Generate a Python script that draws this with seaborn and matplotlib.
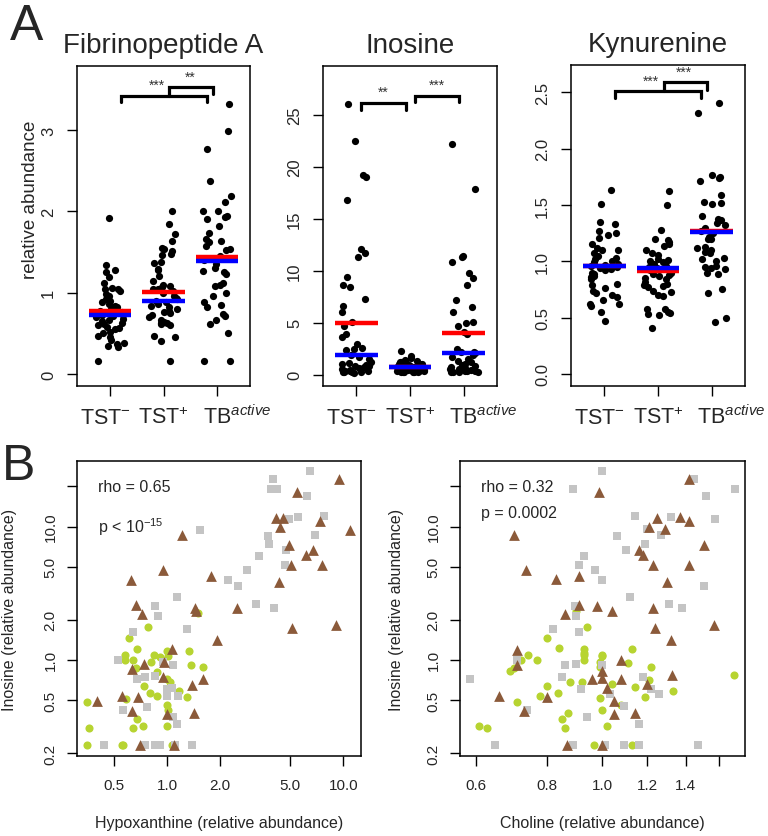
import numpy as np
import pandas as pd
import matplotlib
matplotlib.use("Agg")
import matplotlib.pyplot as plt
import matplotlib.transforms as mtrans
import seaborn as sns
from matplotlib.ticker import NullLocator

# stil ayarlari
sns.set_style("ticks")
plt.rcParams['font.family'] = ['Liberation Sans', 'DejaVu Sans']
plt.rcParams['mathtext.fontset'] = 'custom'
plt.rcParams['mathtext.rm'] = 'Liberation Sans'
plt.rcParams['mathtext.it'] = 'Liberation Sans:italic'
plt.rcParams['mathtext.sf'] = 'Liberation Sans'

np.random.seed(7)  # sadece jitter icin

# ---- Panel A verileri ----
groups = ["TST-", "TST+", "TB"]
group_labels = [r"TST$^{-}$", r"TST$^{+}$", r"TB$^{active}$"]

fib_tst_neg = [0.16, 0.33, 0.35, 0.37, 0.38, 0.42, 0.45, 0.47, 0.5, 0.52, 0.55, 0.57, 0.58, 0.6, 0.62,
               0.63, 0.65, 0.67, 0.68, 0.7, 0.71, 0.72, 0.73, 0.74, 0.76, 0.78, 0.8, 0.82, 0.84, 0.86,
               0.88, 0.9, 0.92, 0.96, 0.98, 1.02, 1.04, 1.05, 1.06, 1.12, 1.19, 1.26, 1.28, 1.34, 1.92]
fib_tst_pos = [0.16, 0.41, 0.46, 0.47, 0.6, 0.62, 0.63, 0.63, 0.64, 0.67, 0.7, 0.72, 0.75, 0.76, 0.78,
               0.8, 0.82, 0.84, 0.86, 0.88, 0.9, 0.92, 0.94, 0.96, 1.0, 1.02, 1.04, 1.05, 1.07, 1.08,
               1.1, 1.15, 1.21, 1.28, 1.29, 1.37, 1.38, 1.46, 1.48, 1.51, 1.54, 1.55, 1.64, 1.72, 1.85, 2.01]
fib_tb = [0.16, 0.16, 0.51, 0.61, 0.66, 0.71, 0.74, 0.82, 0.85, 0.88, 0.96, 1.0, 1.08, 1.1, 1.12,
          1.23, 1.25, 1.27, 1.3, 1.35, 1.4, 1.42, 1.45, 1.52, 1.54, 1.58, 1.62, 1.64, 1.66, 1.74,
          1.82, 1.91, 1.93, 1.95, 2.01, 2.01, 2.12, 2.19, 2.37, 2.77, 2.99, 3.32]
fib_mean = [0.771, 1.005, 1.435]
fib_median = [0.726, 0.894, 1.394]

ino_tst_neg = [26.0, 22.5, 19.2, 19.0, 16.8, 12.1, 11.7, 11.3, 9.4, 8.65, 8.4, 7.3, 6.6, 6.0, 5.1,
               4.7, 3.9, 3.6, 2.95, 2.6, 2.5, 2.4, 1.9, 1.7, 1.5, 1.2, 1.1, 1.0, 0.95, 0.87, 0.8, 0.7,
               0.65, 0.6, 0.55, 0.5, 0.45, 0.4, 0.4, 0.35, 0.3, 0.28, 0.25, 0.22, 0.2]
ino_tst_pos = [2.24, 1.83, 1.6, 1.45, 1.3, 1.25, 1.2, 1.15, 1.1, 1.1, 1.05, 1.0, 1.0, 0.95, 0.92,
               0.9, 0.88, 0.85, 0.82, 0.8, 0.78, 0.75, 0.72, 0.7, 0.68, 0.65, 0.62, 0.6, 0.58, 0.55,
               0.52, 0.5, 0.48, 0.45, 0.42, 0.4, 0.38, 0.35, 0.33, 0.3, 0.28, 0.25, 0.23, 0.23, 0.23]
ino_tb = [22.2, 17.9, 11.4, 11.3, 10.8, 9.8, 9.3, 8.6, 7.2, 6.5, 6.0, 5.05, 5.0, 4.65, 4.1, 3.9,
          2.5, 2.2, 2.15, 2.05, 1.9, 1.7, 1.5, 1.35, 1.2, 1.0, 0.9, 0.85, 0.7, 0.6, 0.55, 0.5, 0.45,
          0.4, 0.4, 0.35, 0.3, 0.28, 0.25, 0.22]
ino_mean = [5.0, 0.70, 4.0]
ino_median = [1.92, 0.70, 2.05]

kyn_tst_neg = [1.63, 1.51, 1.35, 1.33, 1.27, 1.25, 1.23, 1.21, 1.15, 1.12, 1.10, 1.10, 1.07, 1.05,
               1.03, 1.02, 1.0, 0.99, 0.98, 0.97, 0.96, 0.95, 0.94, 0.93, 0.92, 0.9, 0.89, 0.89, 0.87,
               0.86, 0.84, 0.8, 0.79, 0.76, 0.74, 0.72, 0.7, 0.68, 0.66, 0.62, 0.62, 0.6, 0.55, 0.47]
kyn_tst_pos = [1.62, 1.5, 1.28, 1.2, 1.19, 1.17, 1.15, 1.14, 1.1, 1.07, 1.06, 1.02, 1.01, 1.0, 0.99,
               0.98, 0.96, 0.95, 0.94, 0.93, 0.92, 0.9, 0.89, 0.88, 0.87, 0.85, 0.84, 0.82, 0.8, 0.79,
               0.78, 0.77, 0.74, 0.73, 0.7, 0.69, 0.58, 0.58, 0.55, 0.54, 0.53, 0.52, 0.41]
kyn_tb = [2.41, 2.32, 1.77, 1.75, 1.74, 1.71, 1.59, 1.53, 1.52, 1.51, 1.4, 1.38, 1.37, 1.34, 1.32,
          1.3, 1.28, 1.27, 1.25, 1.22, 1.2, 1.2, 1.13, 1.12, 1.1, 1.08, 1.07, 1.03, 1.02, 1.0, 0.96,
          0.95, 0.94, 0.93, 0.9, 0.89, 0.75, 0.72, 0.5, 0.46]
kyn_mean = [0.956, 0.914, 1.273]
kyn_median = [0.956, 0.941, 1.262]

# ---- Panel B verileri (x, y) ----
hypo_neg_x = [6.47, 4.0, 3.87, 4.18, 6.24, 4.93, 5.55, 7.8, 1.53, 3.72, 3.8, 6.93, 4.71, 4.66, 3.31,
              2.83, 2.22, 2.53, 3.19, 4.04, 1.13, 0.855, 0.889, 1.30, 0.641, 0.527, 0.67, 0.747, 0.851,
              0.949, 1.08, 0.99, 1.06, 0.99, 1.155, 0.562, 0.764, 1.08, 1.13, 0.439, 0.747, 0.851,
              0.909, 1.39, 1.106]
hypo_neg_y = [26.2, 22.6, 19.1, 19.2, 16.9, 11.4, 11.7, 12.0, 9.39, 8.46, 7.37, 8.71, 6.64, 5.12, 6.03,
              4.7, 3.95, 3.58, 2.61, 2.45, 2.96, 2.53, 2.15, 1.69, 1.63, 1.0, 0.72, 0.74, 0.76,
              0.96, 0.91, 0.6, 0.62, 0.54, 0.54, 0.42, 0.44, 0.37, 0.33, 0.23, 0.23, 0.23,
              0.23, 0.23, 0.23]
hypo_tb_x = [9.5, 5.43, 4.15, 4.56, 4.37, 7.37, 10.9, 1.22, 4.93, 6.14, 6.7, 5.02, 7.57, 4.3, 0.622,
             0.949, 1.765, 0.664, 0.715, 1.44, 1.46, 2.48, 5.11, 9.09, 1.91, 1.07, 0.738, 0.628, 0.942,
             0.962, 1.59, 1.38, 0.397, 0.551, 0.679, 0.628, 0.99, 1.41, 0.7, 1.096]
hypo_tb_y = [22.7, 18.2, 11.5, 11.6, 9.89, 10.97, 9.39, 8.71, 7.24, 6.09, 6.64, 5.18, 5.18, 3.84, 4.0,
             4.75, 4.26, 2.59, 2.19, 2.45, 2.34, 2.46, 1.73, 1.84, 1.42, 1.21, 0.93, 0.85, 0.74,
             0.96, 0.72, 0.65, 0.49, 0.54, 0.53, 0.41, 0.39, 0.40, 0.23, 0.23]
hypo_pos_x = [1.5, 0.78, 0.608, 0.575, 0.575, 0.636, 0.675, 0.844, 0.91, 0.99, 1.01, 1.32, 0.805, 0.87,
              0.664, 1.36, 1.6, 0.99, 0.74, 1.04, 0.797, 0.878, 1.17, 1.3, 0.582, 0.348, 0.99, 1.01,
              0.67, 0.636, 0.73, 0.99, 0.359, 0.348, 0.551, 0.562, 1.06]
hypo_pos_y = [2.26, 1.76, 1.46, 1.09, 1.0, 1.0, 1.21, 1.09, 1.05, 1.16, 1.07, 1.17, 0.96, 0.81,
              0.87, 0.92, 0.88, 0.72, 0.64, 0.68, 0.56, 0.54, 0.58, 0.53, 0.51, 0.48, 0.46, 0.42,
              0.36, 0.31, 0.32, 0.32, 0.31, 0.23, 0.23, 0.23, 0.23]

chol_neg_x = [1.0, 0.888, 1.45, 1.71, 1.52, 1.14, 1.32, 1.58, 1.20, 1.06, 1.27, 1.19, 1.10, 0.93, 0.911,
              0.972, 1.0, 1.51, 1.12, 1.31, 1.38, 0.897, 0.90, 0.82, 0.911, 0.587, 0.708, 0.859, 0.899,
              1.0, 0.85, 0.919, 1.03, 1.18, 1.22, 1.26, 0.738, 0.94, 1.09, 1.16, 0.649, 0.888, 1.01,
              1.09, 1.16, 1.475]
chol_neg_y = [26.2, 19.1, 22.7, 19.2, 16.9, 12.0, 11.7, 11.3, 9.55, 8.46, 8.71, 7.37, 6.64, 6.03, 5.18,
              4.7, 3.95, 3.58, 2.96, 2.61, 2.45, 2.53, 2.15, 1.69, 1.63, 0.72, 1.0, 0.91, 0.93,
              0.91, 0.74, 0.6, 0.55, 0.74, 0.6, 0.55, 0.42, 0.37, 0.45, 0.33, 0.23, 0.23, 0.23,
              0.23, 0.23, 0.23]
chol_tb_x = [1.42, 0.989, 0.699, 1.25, 1.37, 1.42, 1.21, 1.29, 1.16, 1.18, 1.51, 1.23, 1.42, 0.736, 0.829,
             0.911, 1.30, 0.911, 0.859, 0.981, 1.04, 1.23, 1.24, 1.57, 1.32, 0.708, 0.708, 0.959, 1.0,
             1.08, 1.08, 1.0, 1.325, 1.2, 1.02, 0.658, 0.80, 1.05, 0.728, 1.05, 1.14, 0.867, 1.0]
chol_tb_y = [22.7, 18.2, 8.71, 11.5, 11.7, 11.0, 9.89, 9.5, 6.64, 6.09, 7.3, 5.18, 5.18, 4.7, 4.02,
             4.26, 3.84, 2.59, 2.19, 2.53, 2.34, 2.46, 1.73, 1.84, 1.42, 1.18, 0.91, 0.72, 0.73,
             0.72, 1.0, 0.83, 0.77, 0.66, 0.62, 0.54, 0.53, 0.49, 0.41, 0.39, 0.40, 0.23, 0.23]
chol_pos_x = [0.899, 0.94, 0.80, 0.84, 0.93, 1.13, 0.93, 0.93, 0.93, 0.74, 0.72, 0.768, 0.699, 0.69,
              1.0, 1.0, 0.99, 0.99, 1.11, 1.22, 1.21, 1.14, 1.04, 0.921, 0.879, 0.80, 0.778, 0.838,
              0.99, 1.19, 1.33, 1.70, 0.708, 1.08, 1.0, 0.871, 0.85, 0.859, 1.02, 0.608, 0.629,
              0.968, 1.13]
chol_pos_y = [2.31, 1.76, 1.46, 1.22, 1.2, 1.2, 1.12, 1.08, 1.0, 1.09, 1.0, 1.0, 0.87, 0.82,
              1.09, 1.07, 0.96, 0.88, 0.94, 0.88, 0.70, 0.63, 0.66, 0.68, 0.68, 0.64, 0.54, 0.56,
              0.52, 0.53, 0.58, 0.77, 0.48, 0.46, 0.42, 0.40, 0.36, 0.31, 0.32, 0.32, 0.31,
              0.23, 0.23]

gray_col = "#C4C4C4"
brown_col = "#8B5A3A"
green_col = "#B7D431"

W, H = 768, 837
fig = plt.figure(figsize=(W / 100, H / 100), dpi=100)


def px_axes(l, t, r, b):
    return fig.add_axes([l / W, 1 - b / H, (r - l) / W, (b - t) / H])


def style_box(ax):
    for s in ax.spines.values():
        s.set_visible(True)
        s.set_color("black")
        s.set_linewidth(1.1)
    ax.tick_params(which="both", direction="out", length=7, width=1, color="black")


# ---- Panel A: strip grafikleri ----
panels = [
    ("Fibrinopeptide A", [fib_tst_neg, fib_tst_pos, fib_tb], fib_mean, fib_median,
     [0, 1, 2, 3], ["0", "1", "2", "3"], (-0.148, 3.79), (77, 67, 250, 387),
     [(0.2, 1.81, 3.416, 3.35, 3.35), (1.107, 1.92, 3.526, 3.416, 3.44)],
     [(0.88, 3.47, "***"), (1.5, 3.57, "**")]),
    ("Inosine", [ino_tst_neg, ino_tst_pos, ino_tb], ino_mean, ino_median,
     [0, 5, 10, 15, 20, 25], ["0", "5", "10", "15", "20", "25"], (-1.09, 29.7), (323, 67, 497, 387),
     [(0.09, 0.92, 26.1, 25.45, 25.45), (1.09, 1.92, 26.77, 26.2, 26.2)],
     [(0.51, 26.5, "**"), (1.51, 27.2, "***")]),
    ("Kynurenine", [kyn_tst_neg, kyn_tst_pos, kyn_tb], kyn_mean, kyn_median,
     [0, 0.5, 1.0, 1.5, 2.0, 2.5], ["0.0", "0.5", "1.0", "1.5", "2.0", "2.5"], (-0.107, 2.743),
     (571, 66, 745, 387),
     [(0.2, 1.8, 2.508, 2.449, 2.449), (1.12, 1.91, 2.589, 2.508, 2.523)],
     [(0.87, 2.545, "***"), (1.49, 2.62, "***")]),
]

label_shift = [-5, 0, 20]  # piksel, R'deki ifade hizalamasi gibi

for title, vals, means, medians, yt, ytl, ylim, box, brackets, stars in panels:
    ax = px_axes(*box)
    df = pd.DataFrame({
        "group": sum([[g] * len(v) for g, v in zip(groups, vals)], []),
        "value": sum(vals, []),
    })
    sns.stripplot(data=df, x="group", y="value", order=groups, color="black", size=5.2,
                  jitter=0.27, linewidth=0, ax=ax, zorder=2)
    for i in range(3):
        ax.hlines(means[i], i - 0.4, i + 0.4, color="#FF0000", lw=3.2, zorder=3)
        ax.hlines(medians[i], i - 0.4, i + 0.4, color="#0000FF", lw=3.2, zorder=4)
    for x1, x2, y, yl, yr in brackets:
        ax.plot([x1, x1, x2, x2], [yl, y, y, yr], color="black", lw=2.3,
                solid_joinstyle="miter", zorder=5)
    for x, y, s in stars:
        ax.text(x, y, s, ha="center", va="bottom", fontsize=10, color="#333333")
    ax.set_xlim(-0.62, 2.62)
    ax.set_ylim(*ylim)
    ax.set_xticks([0, 1, 2])
    ax.set_xticklabels(group_labels, fontsize=15.5)
    ax.set_yticks(yt)
    ax.set_yticklabels(ytl, fontsize=12)
    ax.set_xlabel("")
    ax.set_ylabel("")
    style_box(ax)
    ax.tick_params(axis="x", pad=19.5)
    ax.tick_params(axis="y", labelrotation=90, pad=8)
    plt.setp(ax.get_yticklabels(), va="center")
    # etiketler ortak taban cizgisinde, TB biraz saga
    for lab, dx in zip(ax.get_xticklabels(), label_shift):
        lab.set_va("baseline")
        lab.set_transform(lab.get_transform() +
                          mtrans.ScaledTranslation(dx / 100, 0, fig.dpi_scale_trans))
    ax.set_title(title, fontsize=20, pad=10)
    if title == "Fibrinopeptide A":
        ax.set_ylabel("relative abundance", fontsize=13.5, va="center")
        ax.yaxis.set_label_coords(-0.27, 0.584)

# ---- Panel B: log-log sacilim grafikleri ----
scatters = [
    ((77, 462, 361, 757), hypo_pos_x, hypo_pos_y, hypo_neg_x, hypo_neg_y, hypo_tb_x, hypo_tb_y,
     (0.307, 12.6), [0.5, 1, 2, 5, 10], ["0.5", "1.0", "2.0", "5.0", "10.0"],
     "Hypoxanthine (relative abundance)", "rho = 0.65", r"p < 10$^{-15}$", 0.78, 10),
    ((460, 462, 745, 757), chol_pos_x, chol_pos_y, chol_neg_x, chol_neg_y, chol_tb_x, chol_tb_y,
     (0.563, 1.78), [0.6, 0.8, 1.0, 1.2, 1.4, 1.6], ["0.6", "0.8", "1.0", "1.2", "1.4", ""],
     "Choline (relative abundance)", "rho = 0.32", "p = 0.0002", 0.827, 396),
]

for box, px_, py_, nx, ny, tx, ty, xlim, xt, xtl, xlab, rho, ptxt, py_frac, ylab_px in scatters:
    ax = px_axes(*box)
    sns.scatterplot(x=px_, y=py_, marker="o", color=green_col, s=34, linewidth=0, ax=ax, zorder=2)
    sns.scatterplot(x=nx, y=ny, marker="s", color=gray_col, s=32, linewidth=0, ax=ax, zorder=3)
    sns.scatterplot(x=tx, y=ty, marker="^", color=brown_col, s=60, linewidth=0, ax=ax, zorder=4)
    ax.set_xscale("log")
    ax.set_yscale("log")
    ax.set_xlim(*xlim)
    ax.set_ylim(0.19, 31.0)
    ax.set_xticks(xt)
    ax.set_xticklabels(xtl, fontsize=11)
    ax.set_yticks([0.2, 0.5, 1, 2, 5, 10, 20])
    ax.set_yticklabels(["0.2", "0.5", "1.0", "2.0", "5.0", "10.0", ""], fontsize=11)
    ax.xaxis.set_minor_locator(NullLocator())
    ax.yaxis.set_minor_locator(NullLocator())
    style_box(ax)
    ax.tick_params(axis="x", pad=9)
    ax.tick_params(axis="y", labelrotation=90, pad=7)
    plt.setp(ax.get_yticklabels(), va="center")
    ax.set_xlabel(xlab, fontsize=11.5, va="center")
    ax.xaxis.set_label_coords(0.5, -0.227)
    ax.set_ylabel("Inosine (relative abundance)", fontsize=11.5, va="center")
    ax.yaxis.set_label_coords((ylab_px - box[0]) / (box[2] - box[0]), 0.5)
    ax.text(0.075, 0.915, rho, transform=ax.transAxes, fontsize=11.5, va="center")
    ax.text(0.075, py_frac, ptxt, transform=ax.transAxes, fontsize=11.5, va="center")

fig.text(10 / W, 1 - 40 / H, "A", fontsize=36, va="baseline")
fig.text(2 / W, 1 - 480 / H, "B", fontsize=36, va="baseline")

fig.savefig("out.png", dpi=100)
